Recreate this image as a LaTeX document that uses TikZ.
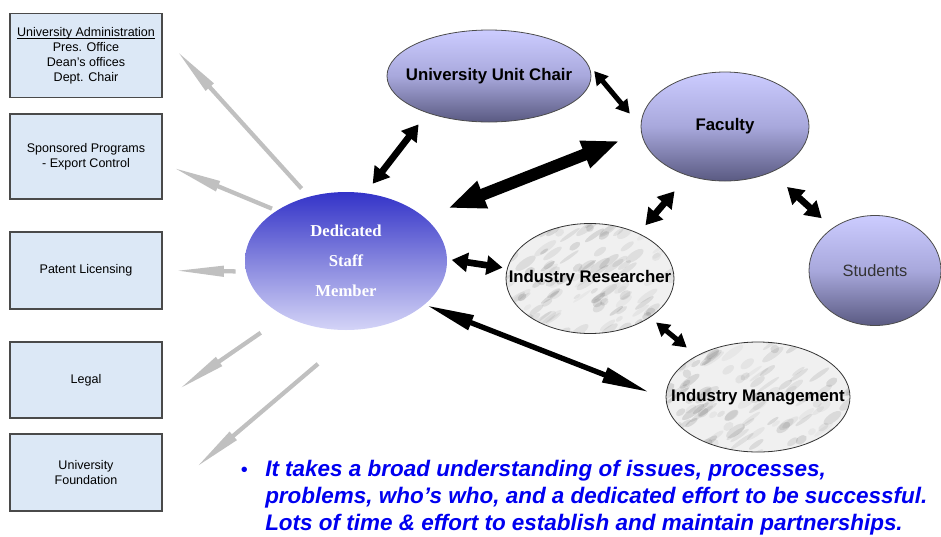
\documentclass[tikz,border=0pt]{standalone}
\usepackage{fontspec}
\setmainfont{Liberation Sans}
\newfontfamily\dedserif{Liberation Serif}
\usetikzlibrary{shapes.geometric,arrows.meta}
\definecolor{boxfill}{HTML}{DCE8F6}
\definecolor{boxline}{HTML}{4A4A4A}
\definecolor{lavtop}{HTML}{CCCCFF}
\definecolor{lavmid}{HTML}{A8A8DC}
\definecolor{lavbot}{HTML}{5A5A82}
\definecolor{dedtop}{HTML}{3333C8}
\definecolor{dedmid}{HTML}{8585DE}
\definecolor{dedbot}{HTML}{D4D4F7}
\definecolor{marblefill}{HTML}{F0F0F0}
\definecolor{arrgray}{HTML}{C0C0C0}
\definecolor{textblue}{HTML}{0000F0}
\begin{document}
\begin{tikzpicture}[x=0.75pt,y=-0.75pt,
  infobox/.style={draw=boxline, line width=0.8pt, fill=boxfill, minimum width=114pt,
    inner sep=0pt, align=center, font=\fontsize{9.4}{11.2}\selectfont},
  lav/.style={ellipse, draw=black!70, line width=0.6pt, top color=lavtop,
    bottom color=lavbot, middle color=lavmid, inner sep=0pt,
    font=\fontsize{12.6}{15}\selectfont\bfseries},
  marble/.style={ellipse, draw=black!80, line width=0.6pt, inner sep=0pt,
    font=\fontsize{12.6}{15}\selectfont\bfseries},
  grayarr/.style={draw=arrgray, line width=3.2pt, -{Triangle[length=37pt,width=7.5pt]}},
  bigarr/.style={draw=black, line width=9pt, {Triangle[length=28pt,width=20pt]}-{Triangle[length=28pt,width=20pt]}},
  medarr/.style={draw=black, line width=5pt, {Triangle[length=12pt,width=14pt]}-{Triangle[length=12pt,width=14pt]}},
  smallarr/.style={draw=black, line width=3.8pt, {Triangle[length=10pt,width=11pt]}-{Triangle[length=10pt,width=11pt]}},
  longarr/.style={draw=black, line width=4pt, {Triangle[length=36pt,width=11pt]}-{Triangle[length=36pt,width=11pt]}}
]
\pgfmathsetseed{11}
\useasboundingbox (0,0) rectangle (941,536);

% marble textures (drawn beneath the marble nodes)
\foreach \cx/\cy/\rx/\ry in {590/278.5/84/55, 758/397/92/55}{
  \begin{scope}
    \clip (\cx,\cy) ellipse [x radius=\rx, y radius=\ry];
    \fill[marblefill] (\cx,\cy) ellipse [x radius=\rx, y radius=\ry];
    \foreach \k in {1,...,150}{
      \pgfmathsetmacro\mx{\cx+rand*(\rx+8)}
      \pgfmathsetmacro\my{\cy+rand*(\ry+8)}
      \pgfmathsetmacro\mlen{4+10*rnd}
      \pgfmathsetmacro\mwid{1.5+3*rnd}
      \pgfmathsetmacro\mop{0.03+0.08*rnd}
      \fill[black, opacity=\mop, rotate around={35:(\mx,\my)}]
        (\mx,\my) ellipse [x radius=\mlen, y radius=\mwid];
    }
  \end{scope}
}

% left boxes
\node[infobox, minimum height=63pt] (b1) at (86,55.5)
  {\underline{\raisebox{0pt}[\height][0pt]{University Administration}}\\Pres. Office\\Dean's offices\\Dept. Chair};
\node[infobox, minimum height=63.75pt] (b2) at (86,156.5)
  {Sponsored Programs\\- Export Control};
\node[infobox, minimum height=57.75pt] (b3) at (86,270.5) {Patent Licensing};
\node[infobox, minimum height=57pt] (b4) at (86,380) {Legal};
\node[infobox, minimum height=57.75pt] (b5) at (86,472.5) {University\\Foundation};

% central ellipse
\node[ellipse, inner sep=0pt, minimum width=151.5pt, minimum height=103.5pt,
  top color=dedtop, bottom color=dedbot, middle color=dedmid, text=white, align=center,
  font=\dedserif\bfseries\fontsize{12.5}{22.5}\selectfont] (ded) at (346,261)
  {\makebox[0pt]{Dedicated}\\\makebox[0pt]{Staff}\\\makebox[0pt]{Member}};

% other ellipses
\node[lav, minimum width=153pt, minimum height=69pt] (uc) at (489,76)
  {\makebox[0pt]{University Unit Chair}};
\node[lav, minimum width=126pt, minimum height=81.75pt] (fac) at (725,126.5)
  {\makebox[0pt]{Faculty}};
\node[lav, minimum width=99pt, minimum height=82.5pt, font=\fontsize{12.3}{15}\selectfont,
  text=black!80] (st) at (875,270.5) {\makebox[0pt]{Students}};
\node[marble, minimum width=126pt, minimum height=82.5pt] (ir) at (590,278.5)
  {\makebox[0pt]{Industry Researcher}};
\node[marble, minimum width=138pt, minimum height=82.5pt] (im) at (758,397)
  {\makebox[0pt]{Industry Management}};

% gray arrows to the offices
\draw[grayarr, shorten <=8.1pt, shorten >=15.75pt] (ded.120.6) -- (b1.15.9);
\draw[grayarr, shorten <=3.75pt, shorten >=8.1pt] (ded.144.2) -- (b2.-5.6);
\draw[grayarr, shorten <=7.7pt, shorten >=9pt] (ded.186.3) -- (b3.east);
\draw[grayarr, shorten <=21.9pt, shorten >=14.55pt] (ded.222.7) -- (b4.-15.4);
\draw[grayarr, shorten <=39.5pt, shorten >=32.6pt] (ded.-80.9) -- (b5.-17.5);

% black double arrows
\draw[medarr, shorten <=8.8pt, shorten >=10.7pt] (ded.74.6) -- (uc.211.1);
\draw[bigarr, shorten <=18.75pt, shorten >=17.4pt] (ded.29.6) -- (fac.184.6);
\draw[smallarr, shorten <=8.6pt, shorten >=12.6pt] (uc.8.7) -- (fac.180.8);
\draw[medarr, shorten <=15.3pt, shorten >=7.9pt] (fac.233) -- (ir.43);
\draw[medarr, shorten <=16.2pt, shorten >=10.9pt] (fac.-45.5) -- (st.135);
\draw[medarr, shorten <=3.4pt, shorten >=3.4pt] (ded.1.6) -- (ir.173);
\draw[smallarr, shorten <=5.9pt, shorten >=9.5pt] (ir.-33.5) -- (im.146.2);
\draw[longarr, shorten <=1.4pt, shorten >=13pt] (ded.-29.8) -- (im.181.4);

% bottom text
\node[anchor=base west, inner sep=0pt, align=left, text=textblue,
  font=\fontsize{16.85}{19.9}\selectfont\bfseries\itshape] (note) at (265,530)
  {\llap{\upshape\mdseries\fontsize{15}{15}\selectfont •\hspace{13pt}}It takes a broad understanding of issues, processes,\\
   problems, who’s who, and a dedicated effort to be successful.\\
   Lots of time \& effort to establish and maintain partnerships.};
\end{tikzpicture}
\end{document}
